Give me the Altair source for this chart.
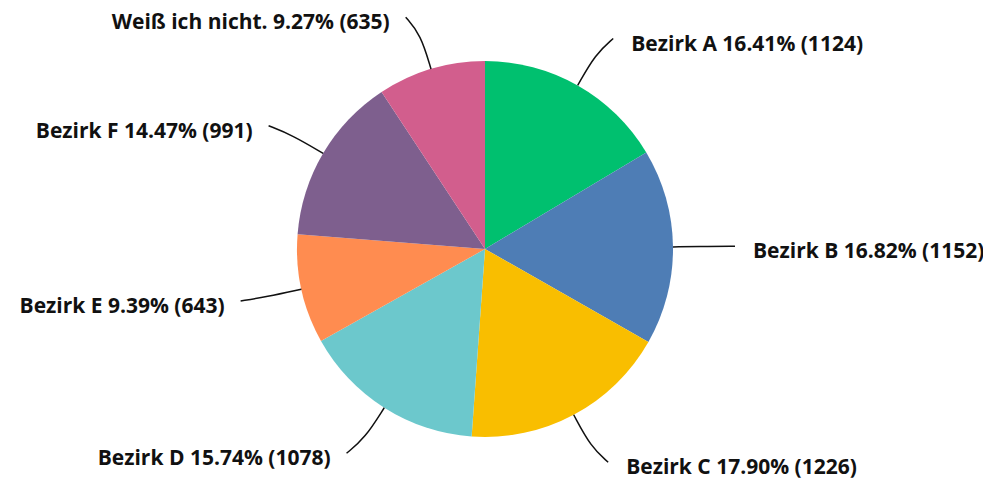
import altair as alt
import pandas as pd

categories = ["Bezirk A", "Bezirk B", "Bezirk C", "Bezirk D", "Bezirk E", "Bezirk F", "Weiß ich nicht."]
values = [1124, 1152, 1226, 1078, 643, 991, 635]
colors = ["#00C06F", "#4E7DB5", "#F9BE00", "#6CC8CC", "#FF8C50", "#7E5F8E", "#D25E8D"]

df = pd.DataFrame({"cat": categories, "value": values, "idx": list(range(len(categories)))})

W, H = 975, 471
CX, CY, R = 477, 241, 188

base = alt.Chart(df)

pie = base.mark_arc(radius=R).encode(
    theta=alt.Theta("value:Q", stack=True),
    order=alt.Order("idx:Q"),
    color=alt.Color("cat:N", scale=alt.Scale(domain=categories, range=colors), legend=None, sort=None),
    x=alt.value(CX),
    y=alt.value(CY),
)

geo = base.transform_joinaggregate(total="sum(value)").transform_window(
    cum="sum(value)", sort=[alt.SortField("idx")], frame=[None, 0]
).transform_calculate(
    a="(datum.cum - datum.value/2)/datum.total*2*PI",
).transform_calculate(
    side="datum.a < PI ? 1 : -1",
).transform_calculate(
    a2="datum.a + 0.03*((datum.side > 0 ? PI/2 : 3*PI/2) - datum.a)",
    r2="243 + 7*abs(sin(datum.a))",
).transform_calculate(
    ex=f"{CX} + datum.r2*sin(datum.a2)",
    ey=f"{CY} - datum.r2*cos(datum.a2)",
    label="datum.cat + ' ' + format(datum.value/datum.total, '.2%') + ' (' + datum.value + ')'",
)

lines = geo.transform_calculate(steps="[0,1,2]").transform_flatten(["steps"]).transform_calculate(
    rr=f"datum.steps == 0 ? {R} : (datum.steps == 1 ? 224 : datum.r2)",
    ang="datum.steps == 2 ? datum.a2 : datum.a",
).transform_calculate(
    px=f"{CX} + datum.rr*sin(datum.ang)",
    py=f"{CY} - datum.rr*cos(datum.ang)",
).mark_line(interpolate="basis", color="#111111", strokeWidth=1.5).encode(
    x=alt.X("px:Q", scale=None),
    y=alt.Y("py:Q", scale=None),
    detail="cat:N",
    order="steps:Q",
)

text_common = dict(font="Open Sans", fontSize=21, fontWeight="bold", color="#111111", baseline="middle")

right_labels = geo.transform_filter("datum.side > 0").transform_calculate(
    tx="datum.ex + 18", ty="datum.ey + 6"
).mark_text(align="left", **text_common).encode(
    x=alt.X("tx:Q", scale=None), y=alt.Y("ty:Q", scale=None), text="label:N"
)

left_labels = geo.transform_filter("datum.side < 0").transform_calculate(
    tx="datum.ex - 16", ty="datum.ey + 6"
).mark_text(align="right", **text_common).encode(
    x=alt.X("tx:Q", scale=None), y=alt.Y("ty:Q", scale=None), text="label:N"
)

chart = alt.layer(pie, lines, right_labels, left_labels).properties(
    width=W, height=H, autosize=alt.AutoSizeParams(type="none"), padding=0
).configure_view(stroke=None)

chart.save("out.html", embed_options={"renderer": "svg", "actions": False})
